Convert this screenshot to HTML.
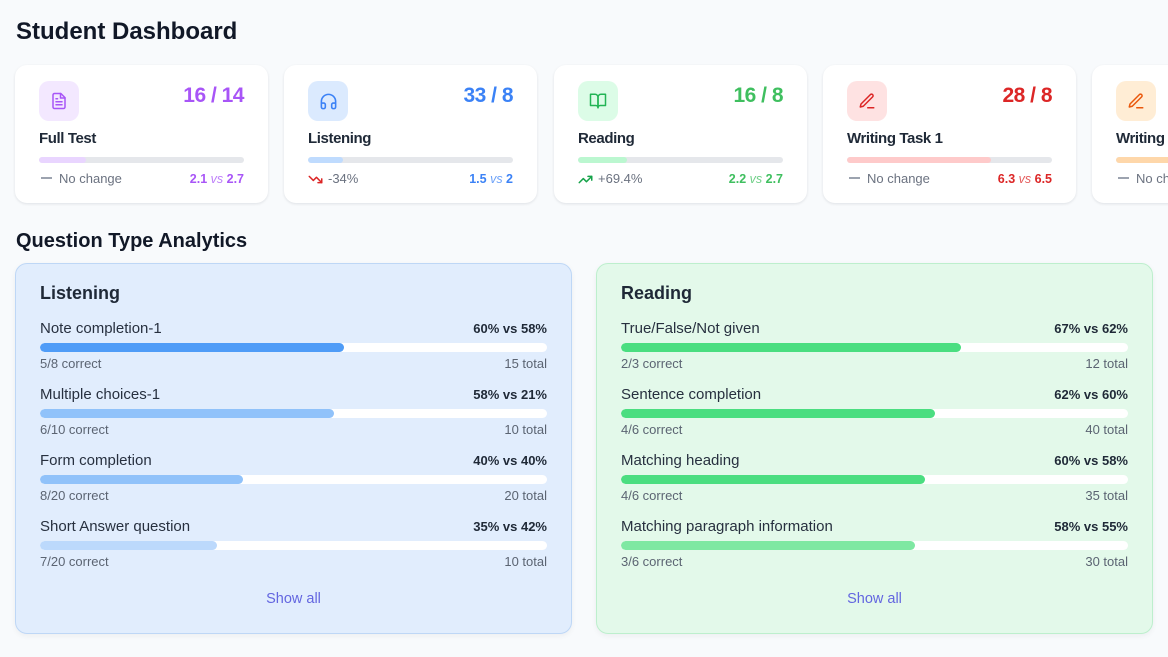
<!DOCTYPE html>
<html>
<head>
<meta charset="utf-8">
<style>
  html,body{margin:0;padding:0;width:1168px;height:657px;overflow:hidden;}
  body{background:#f8fafc;font-family:"Liberation Sans",Arial,sans-serif;color:#111827;}
  #root{position:relative;width:1168px;height:657px;overflow:hidden;background:#f8fafc;}
  .t{position:absolute;line-height:1;white-space:nowrap;}
  .card{position:absolute;top:65px;width:253px;height:138px;background:#fff;border-radius:12px;box-shadow:0 1px 3px rgba(15,23,42,.07),0 1px 2px rgba(15,23,42,.04);}
  .ibox{position:absolute;left:24px;top:16px;width:40px;height:40px;border-radius:10px;display:flex;align-items:center;justify-content:center;}
  .score{right:24px;top:19.9px;font-size:21px;font-weight:700;letter-spacing:-0.5px;}
  .ctitle{left:24px;top:66.3px;font-size:15px;font-weight:700;color:#1f2937;letter-spacing:-0.4px;}
  .ctrack{position:absolute;left:24px;top:92px;width:205px;height:6px;border-radius:3px;background:#e5e7eb;overflow:hidden;}
  .cfill{height:100%;border-radius:3px;}
  .chg{left:44px;top:107.3px;font-size:13px;color:#6b7280;}
  .dash{position:absolute;left:26px;top:112px;width:11px;height:2px;background:#9ca3af;}
  .vals{right:24px;top:107.8px;font-size:12.5px;font-weight:700;}
  .vals i{font-weight:400;opacity:.75;}
  .panel{position:absolute;top:263px;width:557px;height:371px;border-radius:12px;box-sizing:border-box;box-shadow:0 2px 6px rgba(15,23,42,.05);}
  .blue{background:#e1edfd;border:1px solid #bed7f6;}
  .green{background:#e3f9ea;border:1px solid #bdefcd;}
  .ph{left:24px;top:20.3px;font-size:18px;font-weight:700;color:#1f2937;}
  .lab{left:24px;font-size:15px;color:#27303f;}
  .pct{right:24px;font-size:13px;font-weight:700;color:#1f2937;}
  .track{position:absolute;left:24px;width:507px;height:9px;border-radius:5px;background:#fff;overflow:hidden;}
  .fill{height:100%;border-radius:5px;}
  .sub{left:24px;font-size:13px;color:#5b6472;}
  .tot{right:24px;font-size:13px;color:#5b6472;}
  .show{left:0;width:100%;text-align:center;top:327.7px;font-size:14.5px;color:#6366e0;}
</style>
</head>
<body>
<div id="root">

<div class="t" style="left:16px;top:20.2px;font-size:24px;font-weight:700;color:#111827;">Student Dashboard</div>

<!-- Card 1 -->
<div class="card" style="left:15px;">
  <div class="ibox" style="background:#f3e8ff;">
    <svg width="18" height="18" viewBox="0 0 24 24" fill="none" stroke="#a855f7" stroke-width="2" stroke-linecap="round" stroke-linejoin="round"><path d="M14.5 2H6a2 2 0 0 0-2 2v16a2 2 0 0 0 2 2h12a2 2 0 0 0 2-2V7.5L14.5 2z"/><polyline points="14 2 14 8 20 8"/><line x1="16" y1="13" x2="8" y2="13"/><line x1="16" y1="17" x2="8" y2="17"/><line x1="10" y1="9" x2="8" y2="9"/></svg>
  </div>
  <div class="t score" style="color:#a855f7;">16 / 14</div>
  <div class="t ctitle">Full Test</div>
  <div class="ctrack"><div class="cfill" style="width:23%;background:#e9d5ff;"></div></div>
  <div class="dash"></div>
  <div class="t chg">No change</div>
  <div class="t vals" style="color:#a855f7;">2.1 <i>vs</i> 2.7</div>
</div>

<!-- Card 2 -->
<div class="card" style="left:284px;">
  <div class="ibox" style="background:#dbeafe;">
    <svg width="19" height="19" viewBox="0 0 24 24" fill="none" stroke="#3b82f6" stroke-width="2" stroke-linecap="round" stroke-linejoin="round"><path d="M3 14h3a2 2 0 0 1 2 2v3a2 2 0 0 1-2 2H5a2 2 0 0 1-2-2v-7a9 9 0 0 1 18 0v7a2 2 0 0 1-2 2h-1a2 2 0 0 1-2-2v-3a2 2 0 0 1 2-2h3"/></svg>
  </div>
  <div class="t score" style="color:#3b82f6;">33 / 8</div>
  <div class="t ctitle">Listening</div>
  <div class="ctrack"><div class="cfill" style="width:17%;background:#bfdbfe;"></div></div>
  <svg style="position:absolute;left:24px;top:107px;" width="15" height="15" viewBox="0 0 24 24" fill="none" stroke="#dc2626" stroke-width="2.4" stroke-linecap="round" stroke-linejoin="round"><polyline points="22 17 13.5 8.5 8.5 13.5 2 7"/><polyline points="16 17 22 17 22 11"/></svg>
  <div class="t chg">-34%</div>
  <div class="t vals" style="color:#3b82f6;">1.5 <i>vs</i> 2</div>
</div>

<!-- Card 3 -->
<div class="card" style="left:554px;">
  <div class="ibox" style="background:#dcfce7;">
    <svg width="18" height="18" viewBox="0 0 24 24" fill="none" stroke="#22b455" stroke-width="2" stroke-linecap="round" stroke-linejoin="round"><path d="M2 3h6a4 4 0 0 1 4 4v14a3 3 0 0 0-3-3H2z"/><path d="M22 3h-6a4 4 0 0 0-4 4v14a3 3 0 0 1 3-3h7z"/></svg>
  </div>
  <div class="t score" style="color:#3fbf5f;">16 / 8</div>
  <div class="t ctitle">Reading</div>
  <div class="ctrack"><div class="cfill" style="width:24%;background:#bbf7d0;"></div></div>
  <svg style="position:absolute;left:24px;top:107px;" width="15" height="15" viewBox="0 0 24 24" fill="none" stroke="#16a34a" stroke-width="2.4" stroke-linecap="round" stroke-linejoin="round"><polyline points="22 7 13.5 15.5 8.5 10.5 2 17"/><polyline points="16 7 22 7 22 13"/></svg>
  <div class="t chg">+69.4%</div>
  <div class="t vals" style="color:#3fbf5f;">2.2 <i>vs</i> 2.7</div>
</div>

<!-- Card 4 -->
<div class="card" style="left:823px;">
  <div class="ibox" style="background:#fee2e2;">
    <svg width="18" height="18" viewBox="0 0 24 24" fill="none" stroke="#dc2626" stroke-width="2" stroke-linecap="round" stroke-linejoin="round"><path d="M13 21h8"/><path d="M16.5 3.5a2.121 2.121 0 0 1 3 3L7 19l-4 1 1-4L16.5 3.5z"/></svg>
  </div>
  <div class="t score" style="color:#dc2626;">28 / 8</div>
  <div class="t ctitle">Writing Task 1</div>
  <div class="ctrack"><div class="cfill" style="width:70%;background:#fecaca;"></div></div>
  <div class="dash"></div>
  <div class="t chg">No change</div>
  <div class="t vals" style="color:#dc2626;">6.3 <i>vs</i> 6.5</div>
</div>

<!-- Card 5 -->
<div class="card" style="left:1092px;">
  <div class="ibox" style="background:#ffedd5;">
    <svg width="18" height="18" viewBox="0 0 24 24" fill="none" stroke="#ea580c" stroke-width="2" stroke-linecap="round" stroke-linejoin="round"><path d="M13 21h8"/><path d="M16.5 3.5a2.121 2.121 0 0 1 3 3L7 19l-4 1 1-4L16.5 3.5z"/></svg>
  </div>
  <div class="t score" style="color:#ea580c;">12 / 8</div>
  <div class="t ctitle">Writing Task 2</div>
  <div class="ctrack"><div class="cfill" style="width:60%;background:#fed7aa;"></div></div>
  <div class="dash"></div>
  <div class="t chg">No change</div>
  <div class="t vals" style="color:#ea580c;">5.5 <i>vs</i> 6.0</div>
</div>

<div class="t" style="left:16px;top:231.1px;font-size:20px;font-weight:700;color:#111827;">Question Type Analytics</div>

<!-- Listening panel -->
<div class="panel blue" style="left:15px;">
  <div class="t ph">Listening</div>

  <div class="t lab" style="top:56.6px;">Note completion-1</div>
  <div class="t pct" style="top:58px;">60% vs 58%</div>
  <div class="track" style="top:79px;"><div class="fill" style="width:60%;background:#4f9cf7;"></div></div>
  <div class="t sub" style="top:93.3px;">5/8 correct</div>
  <div class="t tot" style="top:93.3px;">15 total</div>

  <div class="t lab" style="top:122.6px;">Multiple choices-1</div>
  <div class="t pct" style="top:124px;">58% vs 21%</div>
  <div class="track" style="top:145px;"><div class="fill" style="width:58%;background:#90c2fa;"></div></div>
  <div class="t sub" style="top:159.3px;">6/10 correct</div>
  <div class="t tot" style="top:159.3px;">10 total</div>

  <div class="t lab" style="top:188.6px;">Form completion</div>
  <div class="t pct" style="top:190px;">40% vs 40%</div>
  <div class="track" style="top:211px;"><div class="fill" style="width:40%;background:#90c2fa;"></div></div>
  <div class="t sub" style="top:225.3px;">8/20 correct</div>
  <div class="t tot" style="top:225.3px;">20 total</div>

  <div class="t lab" style="top:254.6px;">Short Answer question</div>
  <div class="t pct" style="top:256px;">35% vs 42%</div>
  <div class="track" style="top:277px;"><div class="fill" style="width:35%;background:#bcd9fc;"></div></div>
  <div class="t sub" style="top:291.3px;">7/20 correct</div>
  <div class="t tot" style="top:291.3px;">10 total</div>

  <div class="t show">Show all</div>
</div>

<!-- Reading panel -->
<div class="panel green" style="left:596px;">
  <div class="t ph">Reading</div>

  <div class="t lab" style="top:56.6px;">True/False/Not given</div>
  <div class="t pct" style="top:58px;">67% vs 62%</div>
  <div class="track" style="top:79px;"><div class="fill" style="width:67%;background:#4ade80;"></div></div>
  <div class="t sub" style="top:93.3px;">2/3 correct</div>
  <div class="t tot" style="top:93.3px;">12 total</div>

  <div class="t lab" style="top:122.6px;">Sentence completion</div>
  <div class="t pct" style="top:124px;">62% vs 60%</div>
  <div class="track" style="top:145px;"><div class="fill" style="width:62%;background:#4ade80;"></div></div>
  <div class="t sub" style="top:159.3px;">4/6 correct</div>
  <div class="t tot" style="top:159.3px;">40 total</div>

  <div class="t lab" style="top:188.6px;">Matching heading</div>
  <div class="t pct" style="top:190px;">60% vs 58%</div>
  <div class="track" style="top:211px;"><div class="fill" style="width:60%;background:#4ade80;"></div></div>
  <div class="t sub" style="top:225.3px;">4/6 correct</div>
  <div class="t tot" style="top:225.3px;">35 total</div>

  <div class="t lab" style="top:254.6px;">Matching paragraph information</div>
  <div class="t pct" style="top:256px;">58% vs 55%</div>
  <div class="track" style="top:277px;"><div class="fill" style="width:58%;background:#7ee8a2;"></div></div>
  <div class="t sub" style="top:291.3px;">3/6 correct</div>
  <div class="t tot" style="top:291.3px;">30 total</div>

  <div class="t show">Show all</div>
</div>

</div>
</body>
</html>
